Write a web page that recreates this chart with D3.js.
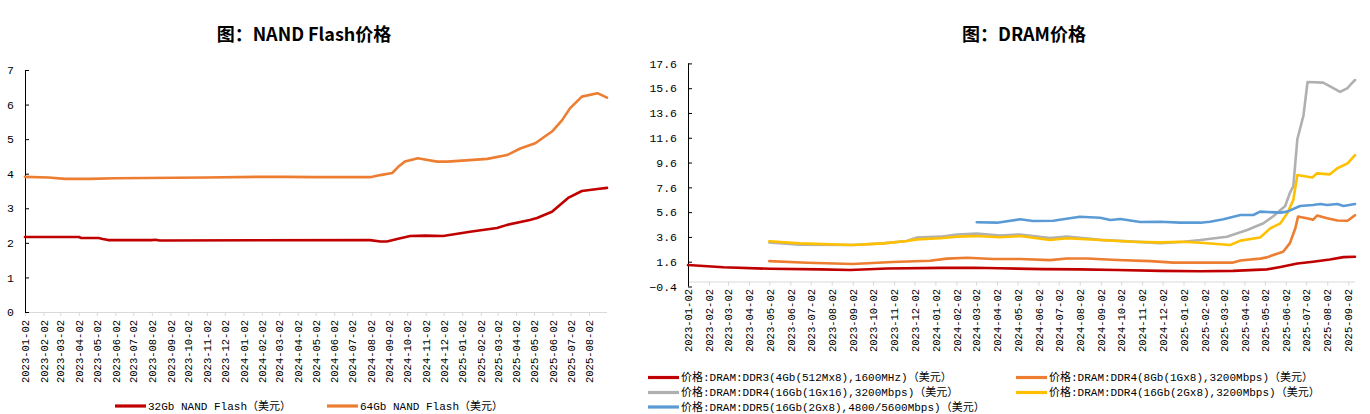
<!DOCTYPE html>
<html>
<head>
<meta charset="utf-8">
<script src="https://cdn.jsdelivr.net/npm/d3@7"></script>
<style>
  html, body { margin: 0; padding: 0; background: #fff; }
  svg { display: block; }
  .mono { font-family: "Liberation Mono", "DejaVu Sans Mono", "Noto Sans CJK SC", monospace; }
  .title { font-family: "Noto Sans CJK SC", sans-serif; font-weight: bold; font-size: 18px; fill: #000; }
</style>
</head>
<body>
<svg id="chart" width="1370" height="414"></svg>
<script>
// ---------------- DATA ----------------
const nandSeriesNames = ["32Gb NAND Flash（美元）", "64Gb NAND Flash（美元）"];
const nandColors = ["#C00000", "#ED7D31"];
const nand32 = [
  ["2023-01-02",2.17],["2023-04-02",2.17],["2023-04-06",2.14],["2023-05-05",2.14],["2023-05-12",2.11],
  ["2023-05-21",2.08],["2023-08-01",2.08],["2023-08-08",2.09],["2023-08-15",2.07],["2024-08-01",2.08],
  ["2024-08-18",2.04],["2024-08-29",2.04],["2024-09-17",2.12],["2024-10-07",2.20],["2024-11-01",2.21],
  ["2024-12-01",2.20],["2025-01-15",2.32],["2025-03-01",2.43],["2025-03-18",2.52],["2025-04-25",2.66],
  ["2025-05-07",2.72],["2025-06-01",2.90],["2025-06-28",3.30],["2025-07-21",3.50],["2025-08-16",3.56],
  ["2025-09-01",3.59]
];
const nand64 = [
  ["2023-01-02",3.91],["2023-02-10",3.89],["2023-03-10",3.85],["2023-04-20",3.85],["2023-06-01",3.87],
  ["2023-11-01",3.89],["2024-02-01",3.91],["2024-03-15",3.91],["2024-05-01",3.90],["2024-08-01",3.90],
  ["2024-08-18",3.96],["2024-09-07",4.02],["2024-09-17",4.20],["2024-09-28",4.35],["2024-10-20",4.45],
  ["2024-10-29",4.42],["2024-11-21",4.35],["2024-12-08",4.35],["2025-01-20",4.40],["2025-02-13",4.43],
  ["2025-03-18",4.54],["2025-04-09",4.73],["2025-05-04",4.88],["2025-06-01",5.22],["2025-06-18",5.55],
  ["2025-07-01",5.89],["2025-07-21",6.23],["2025-08-16",6.33],["2025-09-01",6.20]
];

const dramSeriesNames = [
  "价格:DRAM:DDR3(4Gb(512Mx8),1600MHz)（美元）",
  "价格:DRAM:DDR4(8Gb(1Gx8),3200Mbps)（美元）",
  "价格:DRAM:DDR4(16Gb(1Gx16),3200Mbps)（美元）",
  "价格:DRAM:DDR4(16Gb(2Gx8),3200Mbps)（美元）",
  "价格:DRAM:DDR5(16Gb(2Gx8),4800/5600Mbps)（美元）"
];
const dramColors = ["#C00000", "#ED7D31", "#B0B0B0", "#FFC000", "#5B9BD5"];
const ddr3 = [
  ["2023-01-02",1.33],["2023-02-23",1.15],["2023-05-03",1.03],["2023-07-16",0.98],["2023-08-29",0.93],
  ["2023-10-23",1.05],["2024-01-09",1.10],["2024-02-27",1.11],["2024-04-06",1.07],["2024-06-09",1.00],
  ["2024-08-02",0.98],["2024-09-26",0.93],["2024-11-29",0.86],["2025-01-27",0.83],["2025-03-16",0.86],
  ["2025-05-05",0.98],["2025-05-25",1.18],["2025-06-19",1.45],["2025-07-12",1.60],["2025-08-06",1.78],
  ["2025-08-26",1.97],["2025-09-12",2.00]
];
const ddr4_8g = [
  ["2023-05-02",1.65],["2023-06-27",1.52],["2023-09-02",1.41],["2023-10-31",1.58],["2023-12-25",1.68],
  ["2024-01-19",1.85],["2024-02-18",1.92],["2024-03-27",1.82],["2024-05-06",1.82],["2024-06-19",1.73],
  ["2024-07-14",1.86],["2024-08-13",1.86],["2024-09-26",1.74],["2024-11-14",1.65],["2024-12-18",1.53],
  ["2025-03-16",1.53],["2025-03-27",1.70],["2025-04-25",1.85],["2025-05-05",1.95],["2025-05-20",2.25],
  ["2025-05-29",2.40],["2025-06-08",3.10],["2025-06-16",4.30],["2025-06-20",5.25],["2025-07-08",5.05],
  ["2025-07-12",4.98],["2025-07-18",5.32],["2025-08-02",5.10],["2025-08-17",4.92],["2025-09-01",4.90],
  ["2025-09-12",5.35]
];
const ddr4_16g_1gx16 = [
  ["2023-05-02",3.15],["2023-06-16",2.98],["2023-09-02",2.95],["2023-10-17",3.08],["2023-11-21",3.27],
  ["2023-12-06",3.55],["2024-01-09",3.62],["2024-02-03",3.80],["2024-03-03",3.88],["2024-04-06",3.72],
  ["2024-05-06",3.80],["2024-06-19",3.50],["2024-07-14",3.64],["2024-09-01",3.36],["2024-10-20",3.22],
  ["2024-11-29",3.10],["2025-01-02",3.21],["2025-01-27",3.35],["2025-03-07",3.62],["2025-04-06",4.16],
  ["2025-04-30",4.70],["2025-05-14",5.25],["2025-06-01",6.10],["2025-06-08",7.15],["2025-06-13",7.70],
  ["2025-06-19",11.5],["2025-06-28",13.4],["2025-07-04",16.1],["2025-07-27",16.05],["2025-08-11",15.6],
  ["2025-08-21",15.3],["2025-09-01",15.6],["2025-09-05",15.86],["2025-09-12",16.26]
];
const ddr4_16g_2gx8 = [
  ["2023-05-02",3.25],["2023-06-16",3.08],["2023-09-02",2.95],["2023-10-17",3.08],["2023-11-21",3.27],
  ["2023-12-06",3.40],["2024-01-09",3.49],["2024-02-03",3.62],["2024-03-03",3.67],["2024-04-06",3.57],
  ["2024-05-06",3.67],["2024-06-19",3.35],["2024-07-14",3.49],["2024-09-01",3.35],["2024-10-20",3.21],
  ["2024-11-29",3.16],["2025-01-02",3.21],["2025-01-27",3.13],["2025-03-12",2.95],["2025-03-27",3.30],
  ["2025-04-25",3.55],["2025-05-10",4.29],["2025-05-25",4.70],["2025-06-04",5.50],["2025-06-13",6.58],
  ["2025-06-19",8.60],["2025-07-04",8.46],["2025-07-11",8.40],["2025-07-18",8.73],["2025-08-06",8.65],
  ["2025-08-17",9.14],["2025-09-01",9.54],["2025-09-12",10.2]
];
const ddr5 = [
  ["2024-03-03",4.78],["2024-04-02",4.75],["2024-05-06",5.02],["2024-05-25",4.88],["2024-06-24",4.91],
  ["2024-08-02",5.23],["2024-09-01",5.15],["2024-09-16",4.96],["2024-10-01",5.04],["2024-10-30",4.80],
  ["2024-11-29",4.83],["2024-12-28",4.75],["2025-01-27",4.75],["2025-02-10",4.83],["2025-03-02",5.02],
  ["2025-03-27",5.37],["2025-04-15",5.37],["2025-04-25",5.64],["2025-05-25",5.56],["2025-06-04",5.64],
  ["2025-06-23",6.09],["2025-07-12",6.17],["2025-07-23",6.25],["2025-08-02",6.17],["2025-08-17",6.25],
  ["2025-08-26",6.09],["2025-09-12",6.25]
];

const leftXTicks = [
  "2023-01-02","2023-02-02","2023-03-02","2023-04-02","2023-05-02","2023-06-02","2023-07-02","2023-08-02",
  "2023-09-02","2023-10-02","2023-11-02","2023-12-02","2024-01-02","2024-02-02","2024-03-02","2024-04-02",
  "2024-05-02","2024-06-02","2024-07-02","2024-08-02","2024-09-02","2024-10-02","2024-11-02","2024-12-02",
  "2025-01-02","2025-02-02","2025-03-02","2025-04-02","2025-05-02","2025-06-02","2025-07-02","2025-08-02"
];
const rightXTicks = leftXTicks.concat(["2025-09-02"]);
const leftYTicks = [0, 1, 2, 3, 4, 5, 6, 7];
const rightYTicks = [-0.4, 1.6, 3.6, 5.6, 7.6, 9.6, 11.6, 13.6, 15.6, 17.6];
const leftXDomain = ["2023-01-02", "2025-09-01"];
const rightXDomain = ["2023-01-02", "2025-09-12"];

// ---------------- DRAW ----------------
const parse = d3.timeParse("%Y-%m-%d");
const svg = d3.select("#chart");

function drawPanel(cfg) {
  const g = svg.append("g");
  const x = d3.scaleTime().domain(cfg.xDomain.map(parse)).range([cfg.x0, cfg.x1]);
  const y = d3.scaleLinear().domain(cfg.yDomain).range([cfg.yBottom, cfg.yTop]);

  g.append("text").attr("class", "title")
    .attr("x", cfg.titleX).attr("y", 41).attr("text-anchor", "middle").text(cfg.title);

  const xAxisY = y(0);
  const xAxis = d3.axisBottom(x).tickValues(cfg.xTicks.map(parse)).tickSize(4)
    .tickFormat(d3.timeFormat("%Y-%m-%d"));
  const gx = g.append("g").attr("transform", `translate(0,${xAxisY})`).call(xAxis);
  gx.select(".domain").attr("stroke", "#D9D9D9").attr("d", `M${cfg.x0},0.5H${cfg.x1}`);
  gx.selectAll(".tick line").attr("stroke", "#D9D9D9");
  gx.selectAll(".tick text")
    .attr("font-size", "10.5px").attr("fill", "#000")
    .attr("text-anchor", "end")
    .attr("transform", `translate(0,${cfg.labelTop - xAxisY}) rotate(-90)`)
    .attr("x", 0).attr("y", 0).attr("dy", "0.35em");

  const yAxis = d3.axisLeft(y).tickValues(cfg.yTicks).tickSize(-4).tickPadding(11)
    .tickFormat(cfg.yFormat);
  const gy = g.append("g").attr("transform", `translate(${cfg.x0},0)`).call(yAxis);
  gy.select(".domain").attr("stroke", "#000").attr("d", `M0.5,${cfg.yTop}V${cfg.yBottom}`);
  gy.selectAll(".tick line").attr("stroke", "#000");
  gy.selectAll(".tick text").attr("font-size", "11.5px").attr("fill", "#000");
  g.selectAll(".tick text").style("font-family", "'Liberation Mono','DejaVu Sans Mono',monospace");

  const line = d3.line().x(d => x(parse(d[0]))).y(d => y(d[1]));
  cfg.series.forEach((s, i) => {
    g.append("path").datum(s).attr("fill", "none")
      .attr("stroke", cfg.colors[i]).attr("stroke-width", 2.6)
      .attr("stroke-linejoin", "round").attr("stroke-linecap", "round")
      .attr("d", line);
  });

  cfg.names.forEach((name, i) => {
    const p = cfg.legendPos[i];
    g.append("line").attr("x1", p[0]).attr("x2", p[0] + 31).attr("y1", p[1]).attr("y2", p[1])
      .attr("stroke", cfg.colors[i]).attr("stroke-width", 3.2);
    g.append("text").attr("class", "mono").attr("x", p[0] + 33).attr("y", p[1]).attr("dy", "0.36em")
      .attr("font-size", "11px").attr("fill", "#000").text(name);
  });
}

drawPanel({
  title: "图：NAND Flash价格", titleX: 304,
  xDomain: leftXDomain, x0: 25, x1: 607,
  yDomain: [0, 7], yBottom: 312, yTop: 70, labelTop: 320,
  xTicks: leftXTicks, yTicks: leftYTicks, yFormat: d3.format("d"),
  series: [nand32, nand64], colors: nandColors, names: nandSeriesNames,
  legendPos: [[115, 406], [327, 406]]
});

drawPanel({
  title: "图：DRAM价格", titleX: 1024,
  xDomain: rightXDomain, x0: 688, x1: 1355,
  yDomain: [-0.4, 17.6], yBottom: 286.5, yTop: 63.4, labelTop: 289,
  xTicks: rightXTicks, yTicks: rightYTicks, yFormat: d3.format(".1f"),
  series: [ddr3, ddr4_8g, ddr4_16g_1gx16, ddr4_16g_2gx8, ddr5], colors: dramColors, names: dramSeriesNames,
  legendPos: [[648, 377.5], [1016, 377.5], [648, 392.5], [1016, 392.5], [648, 407]]
});
</script>
</body>
</html>
